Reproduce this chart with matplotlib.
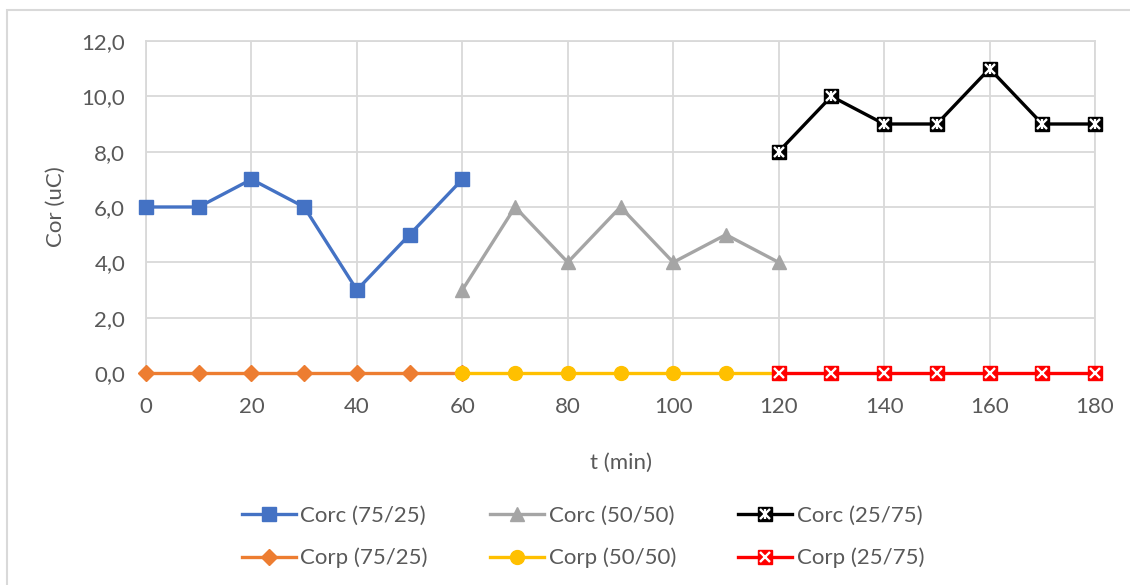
import matplotlib
matplotlib.use("Agg")
import matplotlib.pyplot as plt
from matplotlib.patches import Rectangle
from matplotlib.ticker import FuncFormatter, MultipleLocator

plt.rcParams['font.family'] = ['Lato', 'DejaVu Sans']

# Time axis (min)
t_75 = [0, 10, 20, 30, 40, 50, 60]
t_50 = [60, 70, 80, 90, 100, 110, 120]
t_25 = [120, 130, 140, 150, 160, 170, 180]

# Current values (uC)
corc_75 = [6, 6, 7, 6, 3, 5, 7]
corc_50 = [3, 6, 4, 6, 4, 5, 4]
corc_25 = [8, 10, 9, 9, 11, 9, 9]
corp_75 = [0, 0, 0, 0, 0, 0, 0]
corp_50 = [0, 0, 0, 0, 0, 0, 0]
corp_25 = [0, 0, 0, 0, 0, 0, 0]

labels = ["Corc (75/25)", "Corc (50/50)", "Corc (25/75)",
          "Corp (75/25)", "Corp (50/50)", "Corp (25/75)"]

fig = plt.figure(figsize=(11.3, 5.85), dpi=100)
ax = fig.add_axes([146 / 1130, 1 - 373 / 585, (1095 - 146) / 1130, (373 - 41) / 585])

# outer chart frame
fig.patches.append(Rectangle((7 / 1130, -0.1), 1.2, 1 - 10 / 585 + 0.1,
                             transform=fig.transFigure, fill=False,
                             edgecolor='#d9d9d9', linewidth=1.5, zorder=0))

lw = 2.4
ms = 10
fs = 16
txt = '#595959'

blue, gray, black = '#4472c4', '#a5a5a5', '#000000'
orange, yellow, red = '#ed7d31', '#ffc000', '#ff0000'

h_c75, = ax.plot(t_75, corc_75, color=blue, lw=lw, marker='s', ms=ms * 0.95, zorder=3)
h_p75, = ax.plot(t_75, corp_75, color=orange, lw=lw, marker='D', ms=ms * 0.8, zorder=3)
h_c50, = ax.plot(t_50, corc_50, color=gray, lw=lw, marker='^', ms=ms * 1.05, zorder=3)
h_p50, = ax.plot(t_50, corp_50, color=yellow, lw=lw, marker='o', ms=ms, zorder=4)


def boxed_series(x, y, color, star):
    base, = ax.plot(x, y, color=color, lw=lw, marker='s', ms=ms * 0.95, zorder=5)
    xm, = ax.plot(x, y, ls='none', marker='x', ms=ms * 0.7, mew=1.7,
                  color='white', zorder=6)
    parts = [base, xm]
    if star:
        vm, = ax.plot(x, y, ls='none', marker='|', ms=ms * 0.75, mew=1.7,
                      color='white', zorder=6)
        parts.append(vm)
    return tuple(parts)


h_c25 = boxed_series(t_25, corc_25, black, True)
h_p25 = boxed_series(t_25, corp_25, red, False)

ax.set_xlim(0, 180)
ax.set_ylim(0, 12)
ax.xaxis.set_major_locator(MultipleLocator(20))
ax.yaxis.set_major_locator(MultipleLocator(2))
ax.yaxis.set_major_formatter(FuncFormatter(lambda v, p: f"{v:.1f}".replace('.', ',')))

ax.grid(True, color='#d9d9d9', linewidth=1.3, zorder=0)
ax.set_axisbelow(True)
for s in ax.spines.values():
    s.set_color('#d9d9d9')
    s.set_linewidth(1.3)
ax.tick_params(length=0, labelsize=fs, colors=txt)
ax.tick_params(axis='x', pad=17)
ax.tick_params(axis='y', pad=15)
for line in ax.lines:
    line.set_clip_on(False)

ax.set_xlabel("t (min)", fontsize=fs, color=txt, labelpad=26)
ax.set_ylabel("Cor (uC)", fontsize=fs, color=txt, labelpad=11)

handles = [h_c75, h_p75, h_c50, h_p50, h_c25, h_p25]
leg_labels = [labels[0], labels[3], labels[1], labels[4], labels[2], labels[5]]
fig.legend(handles, leg_labels, ncol=3, loc='center',
           bbox_to_anchor=(583 / 1130, 1 - 537 / 585), frameon=False,
           fontsize=fs, handlelength=2.43, handletextpad=0.2,
           columnspacing=2.8, labelspacing=1.0, labelcolor=txt)

fig.savefig("out.png", dpi=100)
